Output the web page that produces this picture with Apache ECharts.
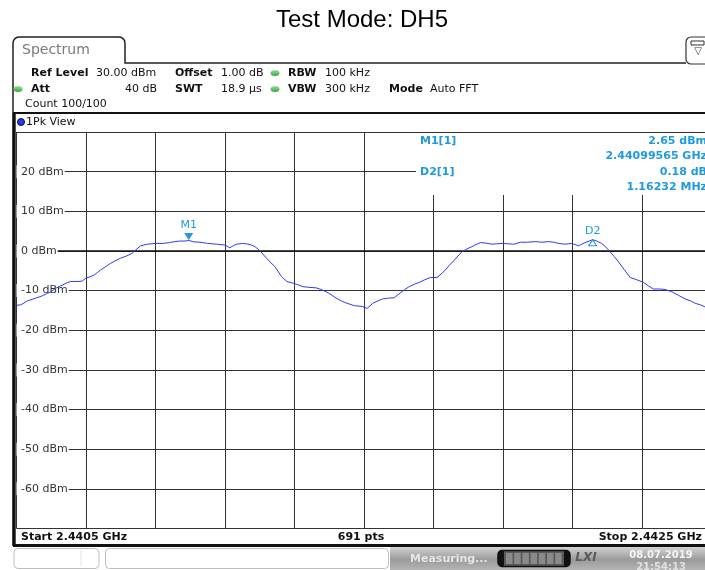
<!DOCTYPE html>
<html>
<head>
<meta charset="utf-8">
<script src="https://cdn.jsdelivr.net/npm/echarts/dist/echarts.min.js"></script>
<style>
  html, body { margin: 0; padding: 0; background: #fff; overflow: hidden; }
  /* the analyser screen is a few pixels wider than the window; its right edge is cut off */
  #chart { width: 712px; height: 570px; }
</style>
</head>
<body>
<div id="chart"></div>
<script>
// Sweep settings
const startFreqGHz = 2.4405;
const stopFreqGHz = 2.4425;
const sweepPoints = 691;

// Trace: frequency offset from start (kHz) and level (dBm)
const freqOffsetKHz = [
  0, 12, 22, 31, 45, 55, 72, 89, 100, 113, 125, 137, 146, 156, 168, 180, 189, 199, 212, 223,
  232, 242, 256, 271, 286, 300, 316, 333, 343, 357, 376, 399, 422, 440, 451, 470, 485, 495.65, 510, 528,
  550, 576, 600, 614, 625, 634, 650, 662, 676, 686, 701, 720, 744, 763, 778, 799, 812, 824, 845, 862,
  876, 891, 905, 920, 935, 948, 972, 996, 1009, 1025, 1040, 1054, 1070, 1087, 1100, 1116, 1130, 1145, 1160, 1174,
  1191, 1210, 1222, 1234, 1246, 1258, 1270, 1282, 1296, 1311, 1322, 1335, 1350, 1368, 1382, 1397, 1414, 1431, 1450, 1470,
  1493, 1512, 1532, 1546, 1560, 1578, 1598, 1617, 1636, 1657.97, 1670, 1684, 1696, 1708, 1720, 1732, 1748, 1766, 1780, 1804,
  1818, 1833, 1850, 1866, 1886, 1905, 1924, 1940, 1953, 1968, 1981, 2000
];
const levelDbm = [
  -13.7, -13.6, -13.1, -12.6, -12.2, -11.9, -11.4, -10.7, -10.2, -9.4, -8.9, -8.4, -8.0, -7.7, -7.7, -7.7, -7.6, -6.9, -6.5, -6.1,
  -5.5, -4.8, -4.0, -3.1, -2.4, -1.8, -1.3, -0.6, 0.25, 1.3, 1.7, 1.9, 1.9, 2.1, 2.3, 2.5, 2.5, 2.65, 2.3, 2.2,
  1.9, 1.7, 1.5, 0.8, 1.4, 1.7, 1.9, 1.8, 1.5, 1.1, 0.0, -1.9, -4.0, -6.5, -7.7, -8.2, -8.6, -9.0, -9.2, -9.3,
  -9.7, -10.3, -11.0, -11.9, -12.6, -13.1, -13.8, -14.0, -14.5, -13.2, -12.6, -12.1, -11.9, -11.8, -10.9, -9.8, -9.0, -8.4, -7.9, -7.3,
  -6.7, -6.7, -5.8, -4.8, -3.6, -2.5, -1.3, -0.2, 0.5, 1.1, 1.6, 2.1, 2.0, 1.7, 1.8, 1.9, 1.8, 1.7, 2.2, 2.2,
  2.35, 2.2, 2.35, 2.2, 1.9, 1.7, 1.9, 1.3, 2.1, 2.83, 2.5, 1.9, 1.0, -0.2, -1.4, -2.7, -4.6, -6.7, -7.1, -7.9,
  -8.8, -9.6, -9.6, -9.7, -10.3, -11.2, -12.1, -12.6, -13.2, -13.6, -14.1, -14.4
];

// Markers
const m1FreqGHz = 2.44099565;
const m1LevelDbm = 2.65;
const d2DeltaMHz = 1.16232;
const d2DeltaDb = 0.18;

// Level axis
const levelMin = -70;
const levelMax = 30;
const levelStep = 10;

const FONT = 'DejaVu Sans';
const MARK = '#1f9ae0';
const INK = '#111';

const m1OffsetKHz = (m1FreqGHz - startFreqGHz) * 1e6;
const d2OffsetKHz = m1OffsetKHz + d2DeltaMHz * 1000;
const d2LevelDbm = m1LevelDbm + d2DeltaDb;
const spanKHz = (stopFreqGHz - startFreqGHz) * 1e6;

function txt(x, y, text, o) {
  o = o || {};
  return {
    type: 'text', x: x, y: y, z: o.z || 20, silent: true,
    style: {
      text: text,
      fill: o.fill || INK,
      fontFamily: o.family || FONT,
      fontSize: o.size || 11,
      fontWeight: o.bold ? 'bold' : 'normal',
      fontStyle: o.italic ? 'italic' : 'normal',
      align: o.align || 'left',
      verticalAlign: 'middle'
    }
  };
}
function ln(x1, y1, x2, y2, color, w, z) {
  return { type: 'line', z: z || 20, silent: true,
    shape: { x1: x1, y1: y1, x2: x2, y2: y2 },
    style: { stroke: color, lineWidth: w } };
}
function greenDot(cx, cy) {
  return { type: 'circle', z: 20, silent: true, x: cx, y: cy, scaleY: 0.66,
    shape: { cx: 0, cy: 0, r: 4.5 },
    style: { fill: new echarts.graphic.LinearGradient(0, 0, 0, 1, [
      { offset: 0, color: '#9be29b' }, { offset: 1, color: '#3f9e3f' }]) } };
}

const graphics = [
  // Title
  txt(362, 20, 'Test Mode: DH5', { family: 'Liberation Sans', size: 24, fill: '#000', align: 'center' }),
  // Tab outline and frame top
  { type: 'polyline', z: 20, silent: true,
    shape: { points: [[13, 546], [13, 43], [13.5, 40.5], [15, 38.5], [17, 37.3], [19.5, 37], [118.5, 37], [121, 37.3],
      [123, 38.5], [124.5, 40.5], [125, 43], [125, 63], [686, 63]] },
    style: { stroke: '#222', lineWidth: 1.5, fill: null } },
  { type: 'rect', z: 20, silent: true,
    shape: { x: 686, y: 37, width: 26, height: 27, r: 5 },
    style: { stroke: '#333', lineWidth: 1.2, fill: '#fff' } },
  { type: 'rect', z: 21, silent: true,
    shape: { x: 691, y: 41, width: 13, height: 4 },
    style: { stroke: '#333', lineWidth: 1, fill: '#fff' } },
  txt(698, 51, '\u25BD', { size: 10, align: 'center', fill: '#333' }),
  txt(22, 50, 'Spectrum', { size: 14, fill: '#7a7a7a' }),

  // Setting rows
  txt(31, 73, 'Ref Level', { bold: true }),
  txt(96, 73, '30.00 dBm'),
  txt(175, 73, 'Offset', { bold: true }),
  txt(221, 73, '1.00 dB'),
  greenDot(275, 73),
  txt(288, 73, 'RBW', { bold: true }),
  txt(325, 73, '100 kHz'),

  greenDot(18, 89),
  txt(31, 89, 'Att', { bold: true }),
  txt(157, 89, '40 dB', { align: 'right' }),
  txt(175, 89, 'SWT', { bold: true }),
  txt(221, 89, '18.9 \u00B5s'),
  greenDot(275, 89),
  txt(288, 89, 'VBW', { bold: true }),
  txt(325, 89, '300 kHz'),
  txt(389, 89, 'Mode', { bold: true }),
  txt(430, 89, 'Auto FFT'),

  txt(25, 104, 'Count 100/100'),
  ln(13, 113, 705, 113, INK, 2),

  { type: 'circle', z: 20, silent: true, shape: { cx: 21, cy: 122, r: 3.5 },
    style: { fill: '#1f3cff', stroke: '#111', lineWidth: 1 } },
  txt(26, 122, '1Pk View'),

  // Left frame
  ln(14.2, 113, 14.2, 546, INK, 3),

  // Marker readout panel
  { type: 'rect', z: 15, silent: true, shape: { x: 416, y: 133, width: 300, height: 62 },
    style: { fill: '#fff' } },
  txt(420, 141, 'M1[1]', { bold: true, fill: MARK }),
  txt(420, 172, 'D2[1]', { bold: true, fill: MARK }),
  txt(707, 141, m1LevelDbm.toFixed(2) + ' dBm', { bold: true, fill: MARK, align: 'right' }),
  txt(707, 156, m1FreqGHz.toFixed(8) + ' GHz', { bold: true, fill: MARK, align: 'right' }),
  txt(707, 172, d2DeltaDb.toFixed(2) + ' dB', { bold: true, fill: MARK, align: 'right' }),
  txt(707, 187, d2DeltaMHz.toFixed(5) + ' MHz', { bold: true, fill: MARK, align: 'right' }),

  // Sweep footer
  txt(21, 537, 'Start ' + startFreqGHz + ' GHz', { bold: true }),
  txt(361, 537, sweepPoints + ' pts', { bold: true, align: 'center' }),
  txt(702, 537, 'Stop ' + stopFreqGHz + ' GHz', { bold: true, align: 'right' }),
  ln(13, 545.5, 712, 545.5, INK, 3),

  // Status bar
  { type: 'rect', z: 18, silent: true, shape: { x: 14, y: 548.5, width: 85, height: 20, r: 4 },
    style: { fill: '#fff', stroke: '#bdbdbd', lineWidth: 1 } },
  ln(81, 551, 81, 566, '#e2e2e2', 1),
  { type: 'rect', z: 18, silent: true, shape: { x: 105.5, y: 548.5, width: 283, height: 20, r: 4 },
    style: { fill: '#fff', stroke: '#bdbdbd', lineWidth: 1 } },
  { type: 'rect', z: 18, silent: true, shape: { x: 390, y: 547, width: 322, height: 23 },
    style: { fill: new echarts.graphic.LinearGradient(0, 0, 0, 1, [
      { offset: 0, color: '#d2d2d2' }, { offset: 0.55, color: '#9a9a9a' }, { offset: 1, color: '#b4b4b4' }]) } },
  txt(410, 559, 'Measuring...', { bold: true, fill: '#e6e6e6' }),
  { type: 'rect', z: 19, silent: true, shape: { x: 498, y: 550.5, width: 72, height: 16, r: 4 },
    style: { fill: '#5a5a5a', stroke: '#111', lineWidth: 1.5 } },
  { type: 'rect', z: 20, silent: true, shape: { x: 498, y: 550.5, width: 6, height: 16, r: [4, 0, 0, 4] },
    style: { fill: '#111' } },
  { type: 'rect', z: 20, silent: true, shape: { x: 564, y: 550.5, width: 6, height: 16, r: [0, 4, 4, 0] },
    style: { fill: '#111' } },
  txt(586, 558, 'LXI', { bold: true, italic: true, size: 12, fill: '#5a5a5a', align: 'center' }),
  txt(661, 555, '08.07.2019', { bold: true, size: 10, fill: '#f4f4f4', align: 'center' }),
  txt(661, 567, '21:54:13', { bold: true, size: 10, fill: '#e0e0e0', align: 'center' })
];

// progress bar segments
for (let i = 0; i < 7; i++) {
  graphics.push({ type: 'rect', z: 21, silent: true,
    shape: { x: 506 + i * 8.2, y: 553, width: 6.5, height: 11 },
    style: { fill: '#8a8a8a' } });
}

const chart = echarts.init(document.getElementById('chart'), null, { renderer: 'canvas' });
chart.setOption({
  animation: false,
  backgroundColor: '#fff',
  grid: { left: 16.5, top: 132, right: 0.5, height: 396.5, containLabel: false },
  xAxis: {
    type: 'value', min: 0, max: spanKHz, interval: spanKHz / 10,
    axisLabel: { show: false }, axisTick: { show: false },
    axisLine: { show: true, lineStyle: { color: INK, width: 1.5 } },
    splitLine: { show: true, lineStyle: { color: '#333', width: 1 } }
  },
  yAxis: {
    type: 'value', min: levelMin, max: levelMax, interval: levelStep,
    axisLine: { show: false }, axisTick: { show: false },
    axisLabel: {
      inside: true, margin: 0, showMinLabel: false, showMaxLabel: false,
      formatter: v => v + ' dBm',
      color: '#333', fontSize: 11, fontFamily: FONT,
      backgroundColor: '#fff', padding: [1, 1, 1, 4.5]
    },
    splitLine: { show: true, lineStyle: { color: '#333', width: 1 } }
  },
  series: [{
    type: 'line',
    data: freqOffsetKHz.map((f, i) => [f, levelDbm[i]]),
    showSymbol: false,
    z: 3,
    lineStyle: { color: '#2b3df2', width: 1 },
    markPoint: {
      silent: true,
      data: [
        { name: 'M1', coord: [m1OffsetKHz, m1LevelDbm], symbol: 'triangle', symbolRotate: 180,
          symbolSize: [9, 7], symbolOffset: [0, -4],
          itemStyle: { color: MARK },
          label: { show: true, formatter: 'M1', position: 'top', distance: 2, color: MARK, fontSize: 11, fontFamily: FONT } },
        { name: 'D2', coord: [d2OffsetKHz, d2LevelDbm], symbol: 'triangle',
          symbolSize: [8, 6], symbolOffset: [0, 3],
          itemStyle: { color: 'rgba(255,255,255,0)', borderColor: MARK, borderWidth: 1 },
          label: { show: true, formatter: 'D2', position: 'top', distance: 3, color: MARK, fontSize: 11, fontFamily: FONT } }
      ]
    }
  }],
  graphic: graphics
});
</script>
</body>
</html>
